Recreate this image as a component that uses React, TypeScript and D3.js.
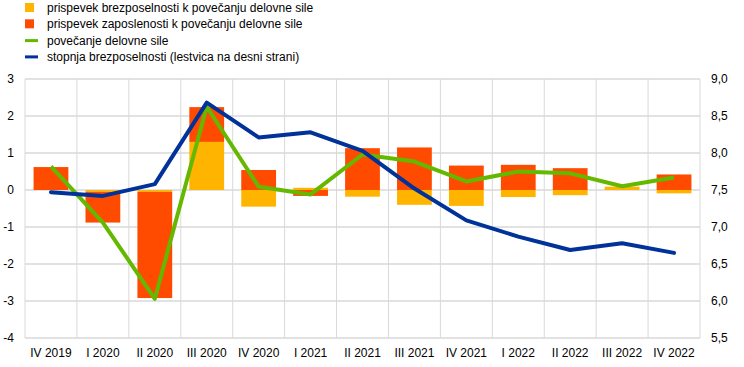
import React from "react";
import * as d3 from "d3";

const categories = ["IV 2019","I 2020","II 2020","III 2020","IV 2020","I 2021","II 2021","III 2021","IV 2021","I 2022","II 2022","III 2022","IV 2022"];
const unemploymentContribution = [0.0,-0.05,-0.05,1.3,-0.45,0.06,-0.18,-0.4,-0.43,-0.19,-0.14,0.09,-0.09];
const employmentContribution = [0.62,-0.83,-2.87,0.94,0.54,-0.16,1.13,1.15,0.66,0.68,0.59,0.0,0.42];
const labourForceGrowth = [0.64,-0.88,-2.94,2.25,0.09,-0.12,0.96,0.77,0.23,0.5,0.45,0.1,0.34];
const unemploymentRate = [7.47,7.42,7.58,8.68,8.21,8.28,8.03,7.52,7.09,6.87,6.69,6.78,6.65];
const leftTicks = [-4,-3,-2,-1,0,1,2,3];
const rightTicks = [5.5,6.0,6.5,7.0,7.5,8.0,8.5,9.0];
const legendLabels = [
  "prispevek brezposelnosti k povečanju delovne sile",
  "prispevek zaposlenosti k povečanju delovne sile",
  "povečanje delovne sile",
  "stopnja brezposelnosti (lestvica na desni strani)",
];

const YELLOW = "#FFB400";
const ORANGE = "#FF4B00";
const GREEN = "#65B800";
const BLUE = "#003299";
const GRID = "#d9d9d9";

export default function App() {
  const W = 744, H = 367;
  const left = 25, right = 700, top = 79, bottom = 338;
  const x = d3.scaleBand().domain(categories).range([left, right]).paddingInner(0.33).paddingOuter(0.165);
  const xb = d3.scaleBand().domain(categories).range([left, right]);
  const y = d3.scaleLinear().domain([-4, 3]).range([bottom, top]);
  const y2 = d3.scaleLinear().domain([5.5, 9.0]).range([bottom, top]);
  const cx = (c: string) => (xb(c) as number) + xb.bandwidth() / 2;

  const stack = (v1: number, v2: number) => {
    // stack yellow first then orange, separately for positive and negative
    let pos = 0, neg = 0;
    const segs: { y0: number; y1: number }[] = [];
    for (const v of [v1, v2]) {
      if (v >= 0) { segs.push({ y0: pos, y1: pos + v }); pos += v; }
      else { segs.push({ y0: neg, y1: neg + v }); neg += v; }
    }
    return segs;
  };

  const greenLine = d3.line<number>().x((_, i) => cx(categories[i])).y((d) => y(d));
  const blueLine = d3.line<number>().x((_, i) => cx(categories[i])).y((d) => y2(d));
  const font = "'Liberation Sans', Arial, sans-serif";

  return (
    <svg width={W} height={H} style={{ display: "block", position: "absolute", left: 0, top: 0 }} fontFamily={font}>
      <rect width={W} height={H} fill="#fff" />
      {/* legend */}
      {legendLabels.map((t, i) => {
        const ly = 8 + i * 16.3;
        return (
          <g key={t}>
            {i < 2 ? (
              <rect x={25} y={ly - 5} width={9} height={9} fill={i === 0 ? YELLOW : ORANGE} />
            ) : (
              <rect x={25} y={ly - 1.5} width={13} height={3} fill={i === 2 ? GREEN : BLUE} />
            )}
            <text x={47} y={ly + 4} fontSize={12} fill="#000">{t}</text>
          </g>
        );
      })}
      {/* gridlines */}
      {leftTicks.map((t) => (
        <line key={"h" + t} x1={left} x2={right} y1={y(t)} y2={y(t)} stroke={GRID} strokeWidth={t === -4 ? 1.5 : 1.5} />
      ))}
      {categories.map((c, i) => (
        <line key={"v" + c} x1={(xb(c) as number)} x2={(xb(c) as number)} y1={top} y2={bottom} stroke={GRID} strokeWidth={1} />
      ))}
      <line x1={right} x2={right} y1={top} y2={bottom} stroke={GRID} strokeWidth={1} />
      {/* bars */}
      {categories.map((c, i) => {
        const segs = stack(unemploymentContribution[i], employmentContribution[i]);
        return (
          <g key={"b" + c}>
            {segs.map((s, j) => {
              const ya = y(Math.max(s.y0, s.y1));
              const yb = y(Math.min(s.y0, s.y1));
              if (yb - ya < 0.1) return null;
              return (
                <rect key={j} x={x(c)} y={ya} width={x.bandwidth()} height={yb - ya} fill={j === 0 ? YELLOW : ORANGE} />
              );
            })}
          </g>
        );
      })}
      {/* lines */}
      <path d={greenLine(labourForceGrowth) || ""} fill="none" stroke={GREEN} strokeWidth={4} strokeLinejoin="round" />
      <path d={blueLine(unemploymentRate) || ""} fill="none" stroke={BLUE} strokeWidth={4} strokeLinejoin="round" strokeLinecap="round" />
      {/* left axis labels */}
      {leftTicks.map((t) => (
        <text key={"l" + t} x={14} y={y(t) + 4} fontSize={12} textAnchor="end" fill="#000">{t}</text>
      ))}
      {/* right axis labels */}
      {rightTicks.map((t) => (
        <text key={"r" + t} x={711} y={y2(t) + 4} fontSize={12} fill="#000">{d3.format(".1f")(t).replace(".", ",")}</text>
      ))}
      {/* x labels */}
      {categories.map((c) => (
        <text key={"x" + c} x={cx(c)} y={357} fontSize={12} textAnchor="middle" fill="#000">{c}</text>
      ))}
    </svg>
  );
}
